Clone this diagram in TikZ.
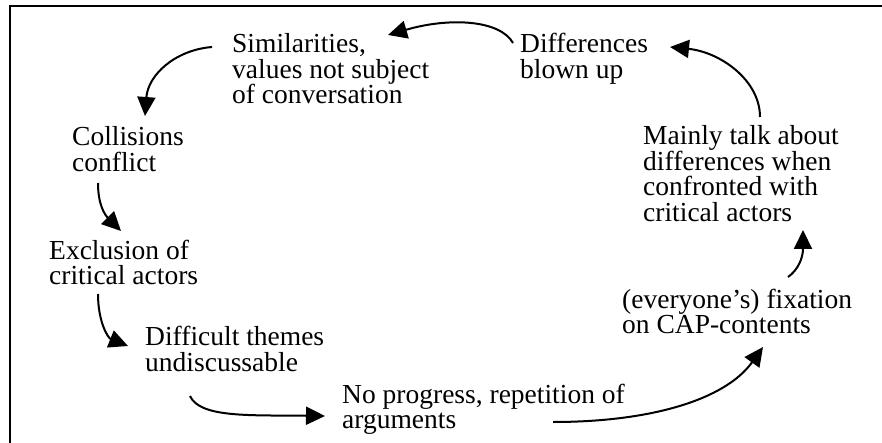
\documentclass[tikz,border=0pt]{standalone}
\usepackage{fontspec}
\setmainfont{Liberation Serif}
\usetikzlibrary{arrows.meta}
\tikzset{
  lbl/.style={anchor=base west, inner sep=0pt, align=left,
              font=\fontsize{27.5}{25.5}\selectfont},
  arr/.style={line width=2pt, -{Triangle[length=19pt,width=18pt]}},
  frame/.style={line width=2pt}
}
\begin{document}
\begin{tikzpicture}[x=1pt,y=-1pt]
  \useasboundingbox (0,0) rectangle (882,443);
  % partial frame: left and top edges
  \draw[frame] (10,443) -- (10,6) -- (882,6);

  % labels of the cycle (placed by the baseline of their last line)
  \node[lbl] (sim) at (232,104) {Similarities,\\values not subject\\of conversation};
  \node[lbl] (dif) at (520,78.5) {Differences\\blown up};
  \node[lbl] (col) at (72,171.5) {Collisions\\conflict};
  \node[lbl] (exc) at (49,284.5) {Exclusion of\\critical actors};
  \node[lbl] (dth) at (145,371) {Difficult themes\\undiscussable};
  \node[lbl] (npr) at (342,428.5) {No progress, repetition of\\arguments};
  \node[lbl] (fix) at (622,333.5) {(everyone’s) fixation\\on CAP-contents};
  \node[lbl] (mai) at (643,221.5) {Mainly talk about\\differences when\\confronted with\\critical actors};

  % arrow end points next to the labels
  \coordinate (a1s) at (513,43);  \coordinate (a1e) at (388,35);
  \coordinate (a2s) at (212,47);  \coordinate (a2e) at (145,116);
  \coordinate (a3s) at (98,183);  \coordinate (a3e) at (121,231);
  \coordinate (a4s) at (98,294);  \coordinate (a4e) at (128,346);
  \coordinate (a5s) at (190,396); \coordinate (a5e) at (325,416);
  \coordinate (a6s) at (553,422); \coordinate (a6e) at (763,347);
  \coordinate (a7s) at (788,277); \coordinate (a7e) at (803,230);
  \coordinate (a8s) at (760,117); \coordinate (a8e) at (670,47);

  % curved arrows around the cycle
  \draw[arr] (a1s) .. controls (500,20) and (450,17) .. (a1e);
  \draw[arr] (a2s) .. controls (175,50) and (148,75) .. (a2e);
  \draw[arr] (a3s) .. controls (98,205) and (105,215) .. (a3e);
  \draw[arr] (a4s) .. controls (98,322) and (108,338) .. (a4e);
  \draw[arr] (a5s) .. controls (200,418) and (250,415) .. (a5e);
  \draw[arr] (a6s) .. controls (650,422) and (725,400) .. (a6e);
  \draw[arr] (a7s) .. controls (798,270) and (803,258) .. (a7e);
  \draw[arr] (a8s) .. controls (760,80) and (720,52) .. (a8e);
\end{tikzpicture}
\end{document}
